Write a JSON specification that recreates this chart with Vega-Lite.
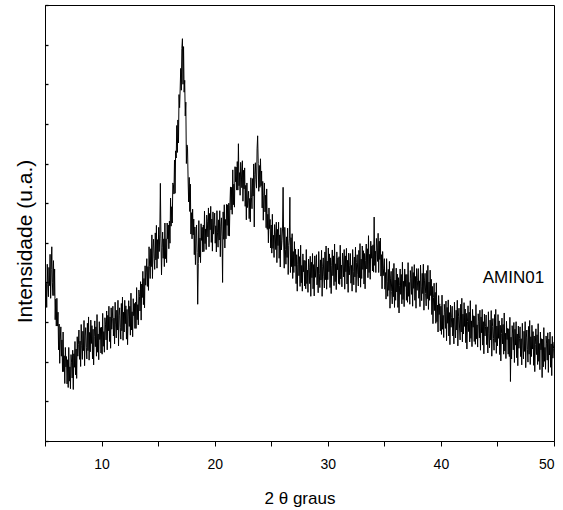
{
  "$schema": "https://vega.github.io/schema/vega-lite/v6.json",
  "autosize": "none",
  "padding": {"left": 45, "top": 5, "right": 9, "bottom": 69},
  "width": 509,
  "height": 436,
  "background": "white",
  "config": {
    "view": {"stroke": "black", "strokeWidth": 1},
    "font": "Liberation Sans"
  },
  "datasets": {
    "xrd": [
{"t":5,"i":420},{"t":5.05,"i":349},{"t":5.1,"i":398},{"t":5.15,"i":337},{"t":5.2,"i":446},{"t":5.25,"i":395},{"t":5.3,"i":364},{"t":5.35,"i":438},{"t":5.4,"i":392},{"t":5.45,"i":471},{"t":5.5,"i":360},{"t":5.55,"i":433},{"t":5.6,"i":490},{"t":5.65,"i":399},{"t":5.7,"i":367},{"t":5.75,"i":455},{"t":5.8,"i":367},{"t":5.85,"i":434},{"t":5.9,"i":306},{"t":5.95,"i":358},
{"t":6,"i":290},{"t":6.05,"i":360},{"t":6.1,"i":290},{"t":6.15,"i":325},{"t":6.2,"i":230},{"t":6.25,"i":295},{"t":6.3,"i":196},{"t":6.35,"i":257},{"t":6.4,"i":288},{"t":6.45,"i":214},{"t":6.5,"i":255},{"t":6.55,"i":175},{"t":6.6,"i":275},{"t":6.65,"i":175},{"t":6.7,"i":215},{"t":6.75,"i":145},{"t":6.8,"i":236},{"t":6.85,"i":187},{"t":6.9,"i":213},{"t":6.95,"i":144},
{"t":7,"i":205},{"t":7.05,"i":135},{"t":7.1,"i":236},{"t":7.15,"i":151},{"t":7.2,"i":187},{"t":7.25,"i":132},{"t":7.3,"i":218},{"t":7.35,"i":199},{"t":7.4,"i":159},{"t":7.45,"i":229},{"t":7.5,"i":130},{"t":7.55,"i":220},{"t":7.6,"i":186},{"t":7.65,"i":251},{"t":7.7,"i":167},{"t":7.75,"i":232},{"t":7.8,"i":158},{"t":7.85,"i":263},{"t":7.9,"i":214},{"t":7.95,"i":244},
{"t":8,"i":280},{"t":8.05,"i":206},{"t":8.1,"i":252},{"t":8.15,"i":188},{"t":8.2,"i":294},{"t":8.25,"i":240},{"t":8.3,"i":206},{"t":8.35,"i":277},{"t":8.4,"i":228},{"t":8.45,"i":304},{"t":8.5,"i":190},{"t":8.55,"i":265},{"t":8.6,"i":286},{"t":8.65,"i":236},{"t":8.7,"i":207},{"t":8.75,"i":297},{"t":8.8,"i":228},{"t":8.85,"i":313},{"t":8.9,"i":204},{"t":8.95,"i":274},
{"t":9,"i":225},{"t":9.05,"i":305},{"t":9.1,"i":246},{"t":9.15,"i":291},{"t":9.2,"i":207},{"t":9.25,"i":282},{"t":9.3,"i":192},{"t":9.35,"i":263},{"t":9.4,"i":303},{"t":9.45,"i":238},{"t":9.5,"i":288},{"t":9.55,"i":214},{"t":9.6,"i":319},{"t":9.65,"i":224},{"t":9.7,"i":270},{"t":9.75,"i":205},{"t":9.8,"i":301},{"t":9.85,"i":256},{"t":9.9,"i":286},{"t":9.95,"i":222},
{"t":10,"i":287},{"t":10.05,"i":219},{"t":10.1,"i":322},{"t":10.15,"i":239},{"t":10.2,"i":276},{"t":10.25,"i":224},{"t":10.3,"i":311},{"t":10.35,"i":293},{"t":10.4,"i":255},{"t":10.45,"i":328},{"t":10.5,"i":230},{"t":10.55,"i":317},{"t":10.6,"i":278},{"t":10.65,"i":340},{"t":10.7,"i":251},{"t":10.75,"i":313},{"t":10.8,"i":234},{"t":10.85,"i":336},{"t":10.9,"i":282},{"t":10.95,"i":309},
{"t":11,"i":340},{"t":11.05,"i":265},{"t":11.1,"i":310},{"t":11.15,"i":245},{"t":11.2,"i":350},{"t":11.25,"i":295},{"t":11.3,"i":260},{"t":11.35,"i":330},{"t":11.4,"i":280},{"t":11.45,"i":355},{"t":11.5,"i":240},{"t":11.55,"i":316},{"t":11.6,"i":336},{"t":11.65,"i":287},{"t":11.7,"i":257},{"t":11.75,"i":347},{"t":11.8,"i":278},{"t":11.85,"i":363},{"t":11.9,"i":254},{"t":11.95,"i":325},
{"t":12,"i":275},{"t":12.05,"i":355},{"t":12.1,"i":296},{"t":12.15,"i":341},{"t":12.2,"i":257},{"t":12.25,"i":332},{"t":12.3,"i":243},{"t":12.35,"i":313},{"t":12.4,"i":354},{"t":12.45,"i":289},{"t":12.5,"i":340},{"t":12.55,"i":267},{"t":12.6,"i":373},{"t":12.65,"i":280},{"t":12.7,"i":326},{"t":12.75,"i":263},{"t":12.8,"i":359},{"t":12.85,"i":316},{"t":12.9,"i":347},{"t":12.95,"i":284},
{"t":13,"i":350},{"t":13.05,"i":284},{"t":13.1,"i":387},{"t":13.15,"i":306},{"t":13.2,"i":344},{"t":13.25,"i":293},{"t":13.3,"i":381},{"t":13.35,"i":365},{"t":13.4,"i":328},{"t":13.45,"i":402},{"t":13.5,"i":305},{"t":13.55,"i":396},{"t":13.6,"i":362},{"t":13.65,"i":428},{"t":13.7,"i":344},{"t":13.75,"i":410},{"t":13.8,"i":336},{"t":13.85,"i":442},{"t":13.9,"i":393},{"t":13.95,"i":424},
{"t":14,"i":460},{"t":14.05,"i":390},{"t":14.1,"i":440},{"t":14.15,"i":380},{"t":14.2,"i":490},{"t":14.25,"i":440},{"t":14.3,"i":410},{"t":14.35,"i":485},{"t":14.4,"i":440},{"t":14.45,"i":520},{"t":14.5,"i":410},{"t":14.55,"i":487},{"t":14.6,"i":509},{"t":14.65,"i":461},{"t":14.7,"i":433},{"t":14.75,"i":525},{"t":14.8,"i":457},{"t":14.85,"i":544},{"t":14.9,"i":436},{"t":14.95,"i":508},
{"t":15,"i":460},{"t":15.05,"i":539},{"t":15.1,"i":478},{"t":15.15,"i":522},{"t":15.2,"i":650},{"t":15.25,"i":510},{"t":15.3,"i":419},{"t":15.35,"i":488},{"t":15.4,"i":527},{"t":15.45,"i":461},{"t":15.5,"i":510},{"t":15.55,"i":440},{"t":15.6,"i":550},{"t":15.65,"i":460},{"t":15.7,"i":510},{"t":15.75,"i":450},{"t":15.8,"i":550},{"t":15.85,"i":510},{"t":15.9,"i":545},{"t":15.95,"i":485},
{"t":16,"i":555},{"t":16.05,"i":499},{"t":16.1,"i":613},{"t":16.15,"i":542},{"t":16.2,"i":591},{"t":16.25,"i":550},{"t":16.3,"i":651},{"t":16.35,"i":647},{"t":16.4,"i":623},{"t":16.45,"i":709},{"t":16.5,"i":625},{"t":16.55,"i":732},{"t":16.6,"i":714},{"t":16.65,"i":796},{"t":16.7,"i":728},{"t":16.75,"i":810},{"t":16.8,"i":752},{"t":16.85,"i":874},{"t":16.9,"i":841},{"t":16.95,"i":888},
{"t":17,"i":940},{"t":17.05,"i":885},{"t":17.1,"i":990},{"t":17.15,"i":1015},{"t":17.2,"i":900},{"t":17.25,"i":995},{"t":17.3,"i":880},{"t":17.35,"i":910},{"t":17.4,"i":820},{"t":17.45,"i":855},{"t":17.5,"i":700},{"t":17.55,"i":747},{"t":17.6,"i":739},{"t":17.65,"i":661},{"t":17.7,"i":603},{"t":17.75,"i":665},{"t":17.8,"i":579},{"t":17.85,"i":648},{"t":17.9,"i":522},{"t":17.95,"i":576},
{"t":18,"i":510},{"t":18.05,"i":585},{"t":18.1,"i":520},{"t":18.15,"i":560},{"t":18.2,"i":470},{"t":18.25,"i":540},{"t":18.3,"i":445},{"t":18.35,"i":510},{"t":18.4,"i":545},{"t":18.45,"i":475},{"t":18.5,"i":345},{"t":18.55,"i":448},{"t":18.6,"i":556},{"t":18.65,"i":464},{"t":18.7,"i":512},{"t":18.75,"i":450},{"t":18.8,"i":548},{"t":18.85,"i":506},{"t":18.9,"i":539},{"t":18.95,"i":477},
{"t":19,"i":545},{"t":19.05,"i":478},{"t":19.1,"i":580},{"t":19.15,"i":498},{"t":19.2,"i":535},{"t":19.25,"i":483},{"t":19.3,"i":570},{"t":19.35,"i":553},{"t":19.4,"i":515},{"t":19.45,"i":588},{"t":19.5,"i":490},{"t":19.55,"i":574},{"t":19.6,"i":533},{"t":19.65,"i":592},{"t":19.7,"i":501},{"t":19.75,"i":560},{"t":19.8,"i":479},{"t":19.85,"i":578},{"t":19.9,"i":522},{"t":19.95,"i":546},
{"t":20,"i":575},{"t":20.05,"i":499},{"t":20.1,"i":543},{"t":20.15,"i":477},{"t":20.2,"i":581},{"t":20.25,"i":525},{"t":20.3,"i":489},{"t":20.35,"i":558},{"t":20.4,"i":507},{"t":20.45,"i":581},{"t":20.5,"i":465},{"t":20.55,"i":542},{"t":20.6,"i":563},{"t":20.65,"i":515},{"t":20.7,"i":400},{"t":20.75,"i":578},{"t":20.8,"i":509},{"t":20.85,"i":596},{"t":20.9,"i":487},{"t":20.95,"i":559},
{"t":21,"i":510},{"t":21.05,"i":597},{"t":21.1,"i":544},{"t":21.15,"i":596},{"t":21.2,"i":518},{"t":21.25,"i":600},{"t":21.3,"i":517},{"t":21.35,"i":594},{"t":21.4,"i":641},{"t":21.45,"i":583},{"t":21.5,"i":640},{"t":21.55,"i":572},{"t":21.6,"i":684},{"t":21.65,"i":596},{"t":21.7,"i":648},{"t":21.75,"i":590},{"t":21.8,"i":692},{"t":21.85,"i":654},{"t":21.9,"i":691},{"t":21.95,"i":633},
{"t":22,"i":705},{"t":22.05,"i":633},{"t":22.1,"i":750},{"t":22.15,"i":644},{"t":22.2,"i":677},{"t":22.25,"i":620},{"t":22.3,"i":703},{"t":22.35,"i":681},{"t":22.4,"i":639},{"t":22.45,"i":707},{"t":22.5,"i":605},{"t":22.55,"i":683},{"t":22.6,"i":636},{"t":22.65,"i":689},{"t":22.7,"i":592},{"t":22.75,"i":645},{"t":22.8,"i":558},{"t":22.85,"i":651},{"t":22.9,"i":589},{"t":22.95,"i":607},
{"t":23,"i":630},{"t":23.05,"i":561},{"t":23.1,"i":612},{"t":23.15,"i":553},{"t":23.2,"i":664},{"t":23.25,"i":615},{"t":23.3,"i":586},{"t":23.35,"i":662},{"t":23.4,"i":618},{"t":23.45,"i":699},{"t":23.5,"i":540},{"t":23.55,"i":673},{"t":23.6,"i":702},{"t":23.65,"i":660},{"t":23.7,"i":638},{"t":23.75,"i":737},{"t":23.8,"i":770},{"t":23.85,"i":700},{"t":23.9,"i":630},{"t":23.95,"i":695},
{"t":24,"i":640},{"t":24.05,"i":712},{"t":24.1,"i":644},{"t":24.15,"i":681},{"t":24.2,"i":588},{"t":24.25,"i":655},{"t":24.3,"i":557},{"t":24.35,"i":619},{"t":24.4,"i":651},{"t":24.45,"i":578},{"t":24.5,"i":620},{"t":24.55,"i":538},{"t":24.6,"i":636},{"t":24.65,"i":534},{"t":24.7,"i":572},{"t":24.75,"i":500},{"t":24.8,"i":588},{"t":24.85,"i":536},{"t":24.9,"i":559},{"t":24.95,"i":487},
{"t":25,"i":545},{"t":25.05,"i":474},{"t":25.1,"i":572},{"t":25.15,"i":486},{"t":25.2,"i":519},{"t":25.25,"i":463},{"t":25.3,"i":546},{"t":25.35,"i":525},{"t":25.4,"i":483},{"t":25.45,"i":552},{"t":25.5,"i":450},{"t":25.55,"i":534},{"t":25.6,"i":493},{"t":25.65,"i":552},{"t":25.7,"i":461},{"t":25.75,"i":520},{"t":25.8,"i":439},{"t":25.85,"i":538},{"t":25.9,"i":482},{"t":25.95,"i":506},
{"t":26,"i":535},{"t":26.05,"i":640},{"t":26.1,"i":502},{"t":26.15,"i":436},{"t":26.2,"i":539},{"t":26.25,"i":483},{"t":26.3,"i":446},{"t":26.35,"i":515},{"t":26.4,"i":463},{"t":26.45,"i":537},{"t":26.5,"i":420},{"t":26.55,"i":493},{"t":26.6,"i":510},{"t":26.65,"i":615},{"t":26.7,"i":425},{"t":26.75,"i":513},{"t":26.8,"i":440},{"t":26.85,"i":523},{"t":26.9,"i":410},{"t":26.95,"i":478},
{"t":27,"i":425},{"t":27.05,"i":503},{"t":27.1,"i":441},{"t":27.15,"i":484},{"t":27.2,"i":397},{"t":27.25,"i":470},{"t":27.3,"i":378},{"t":27.35,"i":446},{"t":27.4,"i":484},{"t":27.45,"i":417},{"t":27.5,"i":465},{"t":27.55,"i":390},{"t":27.6,"i":494},{"t":27.65,"i":399},{"t":27.7,"i":443},{"t":27.75,"i":378},{"t":27.8,"i":472},{"t":27.85,"i":427},{"t":27.9,"i":456},{"t":27.95,"i":391},
{"t":28,"i":455},{"t":28.05,"i":384},{"t":28.1,"i":483},{"t":28.15,"i":397},{"t":28.2,"i":431},{"t":28.25,"i":375},{"t":28.3,"i":459},{"t":28.35,"i":438},{"t":28.4,"i":397},{"t":28.45,"i":466},{"t":28.5,"i":365},{"t":28.55,"i":451},{"t":28.6,"i":412},{"t":28.65,"i":473},{"t":28.7,"i":384},{"t":28.75,"i":445},{"t":28.8,"i":366},{"t":28.85,"i":467},{"t":28.9,"i":413},{"t":28.95,"i":439},
{"t":29,"i":470},{"t":29.05,"i":394},{"t":29.1,"i":439},{"t":29.15,"i":374},{"t":29.2,"i":478},{"t":29.25,"i":423},{"t":29.3,"i":387},{"t":29.35,"i":457},{"t":29.4,"i":406},{"t":29.45,"i":481},{"t":29.5,"i":365},{"t":29.55,"i":441},{"t":29.6,"i":462},{"t":29.65,"i":414},{"t":29.7,"i":386},{"t":29.75,"i":477},{"t":29.8,"i":407},{"t":29.85,"i":492},{"t":29.9,"i":383},{"t":29.95,"i":454},
{"t":30,"i":407},{"t":30.05,"i":487},{"t":30.1,"i":427},{"t":30.15,"i":472},{"t":30.2,"i":387},{"t":30.25,"i":462},{"t":30.3,"i":372},{"t":30.35,"i":442},{"t":30.4,"i":482},{"t":30.45,"i":417},{"t":30.5,"i":467},{"t":30.55,"i":392},{"t":30.6,"i":497},{"t":30.65,"i":402},{"t":30.7,"i":447},{"t":30.75,"i":382},{"t":30.8,"i":477},{"t":30.85,"i":432},{"t":30.9,"i":462},{"t":30.95,"i":397},
{"t":31,"i":465},{"t":31.05,"i":395},{"t":31.1,"i":494},{"t":31.15,"i":409},{"t":31.2,"i":444},{"t":31.25,"i":389},{"t":31.3,"i":474},{"t":31.35,"i":454},{"t":31.4,"i":414},{"t":31.45,"i":483},{"t":31.5,"i":383},{"t":31.55,"i":467},{"t":31.6,"i":427},{"t":31.65,"i":486},{"t":31.7,"i":396},{"t":31.75,"i":456},{"t":31.8,"i":375},{"t":31.85,"i":474},{"t":31.9,"i":419},{"t":31.95,"i":443},
{"t":32,"i":473},{"t":32.05,"i":398},{"t":32.1,"i":443},{"t":32.15,"i":378},{"t":32.2,"i":483},{"t":32.25,"i":428},{"t":32.3,"i":394},{"t":32.35,"i":464},{"t":32.4,"i":414},{"t":32.45,"i":489},{"t":32.5,"i":375},{"t":32.55,"i":450},{"t":32.6,"i":470},{"t":32.65,"i":421},{"t":32.7,"i":391},{"t":32.75,"i":481},{"t":32.8,"i":412},{"t":32.85,"i":498},{"t":32.9,"i":388},{"t":32.95,"i":459},
{"t":33,"i":410},{"t":33.05,"i":492},{"t":33.1,"i":433},{"t":33.15,"i":480},{"t":33.2,"i":396},{"t":33.25,"i":473},{"t":33.3,"i":384},{"t":33.35,"i":456},{"t":33.4,"i":497},{"t":33.45,"i":434},{"t":33.5,"i":485},{"t":33.55,"i":412},{"t":33.6,"i":518},{"t":33.65,"i":425},{"t":33.7,"i":471},{"t":33.75,"i":408},{"t":33.8,"i":504},{"t":33.85,"i":461},{"t":33.9,"i":492},{"t":33.95,"i":429},
{"t":34,"i":495},{"t":34.05,"i":426},{"t":34.1,"i":565},{"t":34.15,"i":443},{"t":34.2,"i":479},{"t":34.25,"i":425},{"t":34.3,"i":511},{"t":34.35,"i":492},{"t":34.4,"i":453},{"t":34.45,"i":524},{"t":34.5,"i":425},{"t":34.55,"i":504},{"t":34.6,"i":458},{"t":34.65,"i":512},{"t":34.7,"i":416},{"t":34.75,"i":470},{"t":34.8,"i":384},{"t":34.85,"i":478},{"t":34.9,"i":417},{"t":34.95,"i":436},
{"t":35,"i":460},{"t":35.05,"i":383},{"t":35.1,"i":425},{"t":35.15,"i":358},{"t":35.2,"i":460},{"t":35.25,"i":403},{"t":35.3,"i":365},{"t":35.35,"i":433},{"t":35.4,"i":380},{"t":35.45,"i":453},{"t":35.5,"i":335},{"t":35.55,"i":409},{"t":35.6,"i":428},{"t":35.65,"i":377},{"t":35.7,"i":346},{"t":35.75,"i":435},{"t":35.8,"i":364},{"t":35.85,"i":448},{"t":35.9,"i":337},{"t":35.95,"i":406},
{"t":36,"i":355},{"t":36.05,"i":436},{"t":36.1,"i":376},{"t":36.15,"i":421},{"t":36.2,"i":337},{"t":36.25,"i":412},{"t":36.3,"i":323},{"t":36.35,"i":393},{"t":36.4,"i":434},{"t":36.45,"i":370},{"t":36.5,"i":420},{"t":36.55,"i":346},{"t":36.6,"i":451},{"t":36.65,"i":357},{"t":36.7,"i":403},{"t":36.75,"i":339},{"t":36.8,"i":434},{"t":36.85,"i":390},{"t":36.9,"i":420},{"t":36.95,"i":355},
{"t":37,"i":420},{"t":37.05,"i":350},{"t":37.1,"i":450},{"t":37.15,"i":365},{"t":37.2,"i":400},{"t":37.25,"i":345},{"t":37.3,"i":430},{"t":37.35,"i":410},{"t":37.4,"i":370},{"t":37.45,"i":440},{"t":37.5,"i":340},{"t":37.55,"i":425},{"t":37.6,"i":385},{"t":37.65,"i":445},{"t":37.7,"i":355},{"t":37.75,"i":415},{"t":37.8,"i":335},{"t":37.85,"i":435},{"t":37.9,"i":380},{"t":37.95,"i":405},
{"t":38,"i":435},{"t":38.05,"i":360},{"t":38.1,"i":404},{"t":38.15,"i":339},{"t":38.2,"i":444},{"t":38.25,"i":389},{"t":38.3,"i":354},{"t":38.35,"i":423},{"t":38.4,"i":372},{"t":38.45,"i":446},{"t":38.5,"i":330},{"t":38.55,"i":404},{"t":38.6,"i":423},{"t":38.65,"i":372},{"t":38.7,"i":341},{"t":38.75,"i":430},{"t":38.8,"i":359},{"t":38.85,"i":443},{"t":38.9,"i":332},{"t":38.95,"i":401},
{"t":39,"i":355},{"t":39.05,"i":431},{"t":39.1,"i":367},{"t":39.15,"i":408},{"t":39.2,"i":319},{"t":39.25,"i":390},{"t":39.3,"i":296},{"t":39.35,"i":362},{"t":39.4,"i":398},{"t":39.45,"i":329},{"t":39.5,"i":375},{"t":39.55,"i":297},{"t":39.6,"i":399},{"t":39.65,"i":301},{"t":39.7,"i":343},{"t":39.75,"i":275},{"t":39.8,"i":367},{"t":39.85,"i":319},{"t":39.9,"i":346},{"t":39.95,"i":278},
{"t":40,"i":340},{"t":40.05,"i":269},{"t":40.1,"i":368},{"t":40.15,"i":282},{"t":40.2,"i":317},{"t":40.25,"i":261},{"t":40.3,"i":345},{"t":40.35,"i":325},{"t":40.4,"i":284},{"t":40.45,"i":353},{"t":40.5,"i":253},{"t":40.55,"i":337},{"t":40.6,"i":297},{"t":40.65,"i":356},{"t":40.7,"i":265},{"t":40.75,"i":324},{"t":40.8,"i":243},{"t":40.85,"i":343},{"t":40.9,"i":287},{"t":40.95,"i":311},
{"t":41,"i":340},{"t":41.05,"i":265},{"t":41.1,"i":310},{"t":41.15,"i":245},{"t":41.2,"i":350},{"t":41.25,"i":295},{"t":41.3,"i":260},{"t":41.35,"i":330},{"t":41.4,"i":280},{"t":41.45,"i":355},{"t":41.5,"i":240},{"t":41.55,"i":315},{"t":41.6,"i":335},{"t":41.65,"i":285},{"t":41.7,"i":255},{"t":41.75,"i":345},{"t":41.8,"i":275},{"t":41.85,"i":360},{"t":41.9,"i":250},{"t":41.95,"i":320},
{"t":42,"i":270},{"t":42.05,"i":349},{"t":42.1,"i":289},{"t":42.15,"i":333},{"t":42.2,"i":248},{"t":42.25,"i":322},{"t":42.3,"i":232},{"t":42.35,"i":301},{"t":42.4,"i":341},{"t":42.45,"i":276},{"t":42.5,"i":325},{"t":42.55,"i":250},{"t":42.6,"i":354},{"t":42.65,"i":259},{"t":42.7,"i":303},{"t":42.75,"i":238},{"t":42.8,"i":332},{"t":42.85,"i":287},{"t":42.9,"i":316},{"t":42.95,"i":251},
{"t":43,"i":315},{"t":43.05,"i":244},{"t":43.1,"i":344},{"t":43.15,"i":258},{"t":43.2,"i":293},{"t":43.25,"i":237},{"t":43.3,"i":321},{"t":43.35,"i":301},{"t":43.4,"i":260},{"t":43.45,"i":330},{"t":43.5,"i":229},{"t":43.55,"i":313},{"t":43.6,"i":273},{"t":43.65,"i":332},{"t":43.7,"i":242},{"t":43.75,"i":301},{"t":43.8,"i":220},{"t":43.85,"i":320},{"t":43.9,"i":265},{"t":43.95,"i":289},
{"t":44,"i":318},{"t":44.05,"i":243},{"t":44.1,"i":288},{"t":44.15,"i":222},{"t":44.2,"i":326},{"t":44.25,"i":271},{"t":44.3,"i":235},{"t":44.35,"i":305},{"t":44.4,"i":255},{"t":44.45,"i":329},{"t":44.5,"i":214},{"t":44.55,"i":289},{"t":44.6,"i":309},{"t":44.65,"i":259},{"t":44.7,"i":229},{"t":44.75,"i":319},{"t":44.8,"i":249},{"t":44.85,"i":332},{"t":44.9,"i":221},{"t":44.95,"i":290},
{"t":45,"i":240},{"t":45.05,"i":319},{"t":45.1,"i":259},{"t":45.15,"i":303},{"t":45.2,"i":218},{"t":45.25,"i":292},{"t":45.3,"i":202},{"t":45.35,"i":271},{"t":45.4,"i":310},{"t":45.45,"i":245},{"t":45.5,"i":294},{"t":45.55,"i":219},{"t":45.6,"i":323},{"t":45.65,"i":227},{"t":45.7,"i":272},{"t":45.75,"i":208},{"t":45.8,"i":302},{"t":45.85,"i":256},{"t":45.9,"i":284},{"t":45.95,"i":219},
{"t":46,"i":283},{"t":46.05,"i":213},{"t":46.1,"i":312},{"t":46.15,"i":150},{"t":46.2,"i":262},{"t":46.25,"i":207},{"t":46.3,"i":291},{"t":46.35,"i":270},{"t":46.4,"i":230},{"t":46.45,"i":299},{"t":46.5,"i":198},{"t":46.55,"i":282},{"t":46.6,"i":242},{"t":46.65,"i":301},{"t":46.7,"i":210},{"t":46.75,"i":270},{"t":46.8,"i":190},{"t":46.85,"i":290},{"t":46.9,"i":234},{"t":46.95,"i":259},
{"t":47,"i":288},{"t":47.05,"i":213},{"t":47.1,"i":258},{"t":47.15,"i":192},{"t":47.2,"i":297},{"t":47.25,"i":242},{"t":47.3,"i":207},{"t":47.35,"i":277},{"t":47.4,"i":226},{"t":47.45,"i":301},{"t":47.5,"i":185},{"t":47.55,"i":260},{"t":47.6,"i":280},{"t":47.65,"i":230},{"t":47.7,"i":199},{"t":47.75,"i":289},{"t":47.8,"i":219},{"t":47.85,"i":304},{"t":47.9,"i":193},{"t":47.95,"i":263},
{"t":48,"i":213},{"t":48.05,"i":292},{"t":48.1,"i":232},{"t":48.15,"i":276},{"t":48.2,"i":191},{"t":48.25,"i":265},{"t":48.3,"i":175},{"t":48.35,"i":244},{"t":48.4,"i":283},{"t":48.45,"i":218},{"t":48.5,"i":268},{"t":48.55,"i":193},{"t":48.6,"i":296},{"t":48.65,"i":201},{"t":48.7,"i":246},{"t":48.75,"i":180},{"t":48.8,"i":275},{"t":48.85,"i":230},{"t":48.9,"i":258},{"t":48.95,"i":160},
{"t":49,"i":257},{"t":49.05,"i":187},{"t":49.1,"i":286},{"t":49.15,"i":201},{"t":49.2,"i":236},{"t":49.25,"i":181},{"t":49.3,"i":265},{"t":49.35,"i":245},{"t":49.4,"i":204},{"t":49.45,"i":273},{"t":49.5,"i":173},{"t":49.55,"i":257},{"t":49.6,"i":217},{"t":49.65,"i":275},{"t":49.7,"i":186},{"t":49.75,"i":245},{"t":49.8,"i":165},{"t":49.85,"i":264},{"t":49.9,"i":209},{"t":49.95,"i":234},
{"t":50,"i":250}
    ],
    "lbl": [{"t": 43.7, "i": 399, "name": "AMIN01"}]
  },
  "layer": [
    {
      "data": {"name": "xrd"},
      "mark": {"type": "line", "color": "black", "strokeWidth": 1, "clip": true},
      "encoding": {
        "x": {
          "field": "t", "type": "quantitative",
          "scale": {"domain": [5, 50], "nice": false, "zero": false},
          "axis": {
            "title": "2 θ graus",
            "values": [5, 10, 15, 20, 25, 30, 35, 40, 45, 50],
            "labelExpr": "datum.value % 10 === 0 ? datum.label : ''",
            "grid": false,
            "domainColor": "black",
            "tickColor": "black",
            "tickSize": 5,
            "labelPadding": 11,
            "labelFont": "Liberation Sans",
            "labelFontSize": 14,
            "labelColor": "black",
            "titleFont": "Liberation Sans",
            "titleFontSize": 17,
            "titleFontWeight": "normal",
            "titleColor": "black",
            "titleBaseline": "alphabetic",
            "titleY": 62
          }
        },
        "y": {
          "field": "i", "type": "quantitative",
          "scale": {"domain": [0, 1100], "nice": false, "zero": false},
          "axis": {
            "title": "Intensidade (u.a.)",
            "tickCount": 11,
            "labels": false,
            "grid": false,
            "domainColor": "black",
            "tickColor": "black",
            "tickWidth": 1.3,
            "tickSize": -3,
            "titleFont": "Liberation Sans",
            "titleFontSize": 21,
            "titleFontWeight": "normal",
            "titleColor": "black",
            "titleAngle": -90,
            "titleAlign": "center",
            "titleBaseline": "alphabetic",
            "titleX": -14,
            "titleY": 236
          }
        }
      }
    },
    {
      "data": {"name": "lbl"},
      "mark": {"type": "text", "align": "left", "baseline": "alphabetic", "font": "Liberation Sans", "fontSize": 17, "color": "black"},
      "encoding": {
        "x": {"field": "t", "type": "quantitative"},
        "y": {"field": "i", "type": "quantitative"},
        "text": {"field": "name"}
      }
    }
  ]
}
